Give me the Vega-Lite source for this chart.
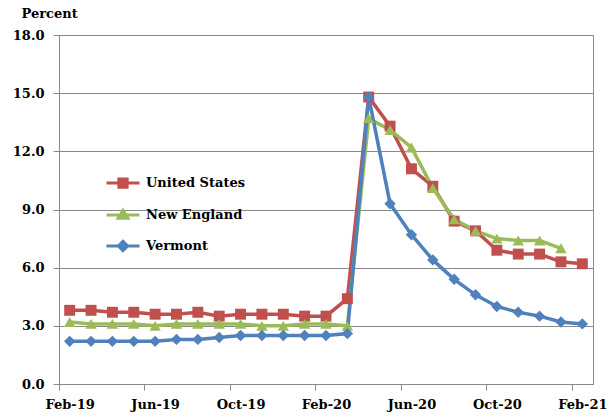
{
  "$schema": "https://vega.github.io/schema/vega-lite/v6.json",
  "width": 534,
  "height": 349,
  "autosize": {"type": "none"},
  "padding": {"left": 59, "top": 35, "right": 15, "bottom": 33},
  "background": "white",
  "config": {
    "view": {"stroke": "#898989", "strokeWidth": 1},
    "font": "DejaVu Serif"
  },
  "data": {
    "values": [
      {"month": "Feb-19", "series": "United States", "rate": 3.8},
      {"month": "Mar-19", "series": "United States", "rate": 3.8},
      {"month": "Apr-19", "series": "United States", "rate": 3.7},
      {"month": "May-19", "series": "United States", "rate": 3.7},
      {"month": "Jun-19", "series": "United States", "rate": 3.6},
      {"month": "Jul-19", "series": "United States", "rate": 3.6},
      {"month": "Aug-19", "series": "United States", "rate": 3.7},
      {"month": "Sep-19", "series": "United States", "rate": 3.5},
      {"month": "Oct-19", "series": "United States", "rate": 3.6},
      {"month": "Nov-19", "series": "United States", "rate": 3.6},
      {"month": "Dec-19", "series": "United States", "rate": 3.6},
      {"month": "Jan-20", "series": "United States", "rate": 3.5},
      {"month": "Feb-20", "series": "United States", "rate": 3.5},
      {"month": "Mar-20", "series": "United States", "rate": 4.4},
      {"month": "Apr-20", "series": "United States", "rate": 14.8},
      {"month": "May-20", "series": "United States", "rate": 13.3},
      {"month": "Jun-20", "series": "United States", "rate": 11.1},
      {"month": "Jul-20", "series": "United States", "rate": 10.2},
      {"month": "Aug-20", "series": "United States", "rate": 8.4},
      {"month": "Sep-20", "series": "United States", "rate": 7.9},
      {"month": "Oct-20", "series": "United States", "rate": 6.9},
      {"month": "Nov-20", "series": "United States", "rate": 6.7},
      {"month": "Dec-20", "series": "United States", "rate": 6.7},
      {"month": "Jan-21", "series": "United States", "rate": 6.3},
      {"month": "Feb-21", "series": "United States", "rate": 6.2},
      {"month": "Feb-19", "series": "New England", "rate": 3.2},
      {"month": "Mar-19", "series": "New England", "rate": 3.1},
      {"month": "Apr-19", "series": "New England", "rate": 3.1},
      {"month": "May-19", "series": "New England", "rate": 3.1},
      {"month": "Jun-19", "series": "New England", "rate": 3.0},
      {"month": "Jul-19", "series": "New England", "rate": 3.1},
      {"month": "Aug-19", "series": "New England", "rate": 3.1},
      {"month": "Sep-19", "series": "New England", "rate": 3.1},
      {"month": "Oct-19", "series": "New England", "rate": 3.1},
      {"month": "Nov-19", "series": "New England", "rate": 3.0},
      {"month": "Dec-19", "series": "New England", "rate": 3.0},
      {"month": "Jan-20", "series": "New England", "rate": 3.1},
      {"month": "Feb-20", "series": "New England", "rate": 3.1},
      {"month": "Mar-20", "series": "New England", "rate": 3.0},
      {"month": "Apr-20", "series": "New England", "rate": 13.7},
      {"month": "May-20", "series": "New England", "rate": 13.1},
      {"month": "Jun-20", "series": "New England", "rate": 12.2},
      {"month": "Jul-20", "series": "New England", "rate": 10.1},
      {"month": "Aug-20", "series": "New England", "rate": 8.5},
      {"month": "Sep-20", "series": "New England", "rate": 7.9},
      {"month": "Oct-20", "series": "New England", "rate": 7.5},
      {"month": "Nov-20", "series": "New England", "rate": 7.4},
      {"month": "Dec-20", "series": "New England", "rate": 7.4},
      {"month": "Jan-21", "series": "New England", "rate": 7.0},
      {"month": "Feb-19", "series": "Vermont", "rate": 2.2},
      {"month": "Mar-19", "series": "Vermont", "rate": 2.2},
      {"month": "Apr-19", "series": "Vermont", "rate": 2.2},
      {"month": "May-19", "series": "Vermont", "rate": 2.2},
      {"month": "Jun-19", "series": "Vermont", "rate": 2.2},
      {"month": "Jul-19", "series": "Vermont", "rate": 2.3},
      {"month": "Aug-19", "series": "Vermont", "rate": 2.3},
      {"month": "Sep-19", "series": "Vermont", "rate": 2.4},
      {"month": "Oct-19", "series": "Vermont", "rate": 2.5},
      {"month": "Nov-19", "series": "Vermont", "rate": 2.5},
      {"month": "Dec-19", "series": "Vermont", "rate": 2.5},
      {"month": "Jan-20", "series": "Vermont", "rate": 2.5},
      {"month": "Feb-20", "series": "Vermont", "rate": 2.5},
      {"month": "Mar-20", "series": "Vermont", "rate": 2.6},
      {"month": "Apr-20", "series": "Vermont", "rate": 14.8},
      {"month": "May-20", "series": "Vermont", "rate": 9.3},
      {"month": "Jun-20", "series": "Vermont", "rate": 7.7},
      {"month": "Jul-20", "series": "Vermont", "rate": 6.4},
      {"month": "Aug-20", "series": "Vermont", "rate": 5.4},
      {"month": "Sep-20", "series": "Vermont", "rate": 4.6},
      {"month": "Oct-20", "series": "Vermont", "rate": 4.0},
      {"month": "Nov-20", "series": "Vermont", "rate": 3.7},
      {"month": "Dec-20", "series": "Vermont", "rate": 3.5},
      {"month": "Jan-21", "series": "Vermont", "rate": 3.2},
      {"month": "Feb-21", "series": "Vermont", "rate": 3.1}
    ]
  },
  "encoding": {
    "x": {
      "field": "month",
      "type": "ordinal",
      "sort": null,
      "scale": {"type": "band", "paddingInner": 0, "paddingOuter": 0},
      "axis": {
        "values": ["Feb-19", "Jun-19", "Oct-19", "Feb-20", "Jun-20", "Oct-20", "Feb-21"],
        "tickOffset": -10.68,
        "labelOffset": 10.68,
        "grid": false,
        "title": null,
        "labelAngle": 0,
        "labelFont": "DejaVu Serif",
        "labelFontWeight": "bold",
        "labelFontSize": 13,
        "labelColor": "black",
        "labelPadding": 8,
        "tickColor": "#898989",
        "tickSize": 6,
        "domainColor": "#898989"
      }
    },
    "y": {
      "field": "rate",
      "type": "quantitative",
      "scale": {"domain": [0, 18], "nice": false, "zero": true},
      "axis": {
        "values": [0, 3, 6, 9, 12, 15, 18],
        "format": ".1f",
        "grid": true,
        "gridColor": "#898989",
        "gridWidth": 1,
        "tickColor": "#898989",
        "tickSize": 6,
        "domainColor": "#898989",
        "labelFont": "DejaVu Serif",
        "labelFontWeight": "bold",
        "labelFontSize": 13,
        "labelColor": "black",
        "labelPadding": 9,
        "title": "Percent",
        "titleAngle": 0,
        "titleX": -38,
        "titleY": -22,
        "titleAlign": "left",
        "titleBaseline": "middle",
        "titleFont": "DejaVu Serif",
        "titleFontWeight": "bold",
        "titleFontSize": 13,
        "titleColor": "black"
      }
    }
  },
  "layer": [
    {
      "mark": {"type": "point", "filled": true, "opacity": 0.01, "size": 1},
      "encoding": {
        "color": {
          "field": "series",
          "type": "nominal",
          "scale": {"domain": ["United States", "New England", "Vermont"], "range": ["#C0504D", "#9BBB59", "#4F81BD"]},
          "legend": {
            "orient": "none",
            "legendX": 46,
            "legendY": 130,
            "title": null,
            "padding": 0,
            "rowPadding": 3,
            "symbolSize": 1089,
            "symbolOpacity": 1,
            "symbolStrokeWidth": 3,
            "labelOffset": 5,
            "labelFont": "DejaVu Serif",
            "labelFontWeight": "bold",
            "labelFontSize": 13,
            "labelColor": "black",
            "encode": {
              "symbols": {
                "update": {
                  "stroke": {"scale": "color", "field": "value"},
                  "fill": {"scale": "color", "field": "value"},
                  "strokeWidth": {"value": 3},
                  "opacity": {"value": 1}
                }
              }
            }
          }
        },
        "shape": {
          "field": "series",
          "type": "nominal",
          "scale": {
            "domain": ["United States", "New England", "Vermont"],
            "range": [
              "M-1,0H1M-0.25,-0.25H0.25V0.25H-0.25Z",
              "M-1,0H1M0,-0.28L0.3,0.2L-0.3,0.2Z",
              "M-1,0H1M0,-0.28L0.28,0L0,0.28L-0.28,0Z"
            ]
          },
          "legend": {
            "orient": "none",
            "legendX": 46,
            "legendY": 130,
            "title": null,
            "padding": 0,
            "rowPadding": 3,
            "symbolSize": 1089,
            "symbolOpacity": 1,
            "symbolStrokeWidth": 3,
            "labelOffset": 5,
            "labelFont": "DejaVu Serif",
            "labelFontWeight": "bold",
            "labelFontSize": 13,
            "labelColor": "black"
          }
        }
      }
    },
    {
      "mark": {"type": "line", "strokeWidth": 3.5},
      "encoding": {
        "stroke": {
          "field": "series",
          "type": "nominal",
          "scale": {"domain": ["United States", "New England", "Vermont"], "range": ["#C0504D", "#9BBB59", "#4F81BD"]},
          "legend": null
        }
      }
    },
    {
      "transform": [{"filter": "datum.series === 'United States'"}],
      "mark": {"type": "point", "shape": "square", "filled": true, "size": 120, "color": "#C0504D", "opacity": 1},
      "encoding": {}
    },
    {
      "transform": [{"filter": "datum.series === 'New England'"}],
      "mark": {"type": "point", "shape": "triangle-up", "filled": true, "size": 130, "color": "#9BBB59", "opacity": 1},
      "encoding": {}
    },
    {
      "transform": [{"filter": "datum.series === 'Vermont'"}],
      "mark": {"type": "point", "shape": "diamond", "filled": true, "size": 130, "color": "#4F81BD", "opacity": 1},
      "encoding": {}
    }
  ]
}
